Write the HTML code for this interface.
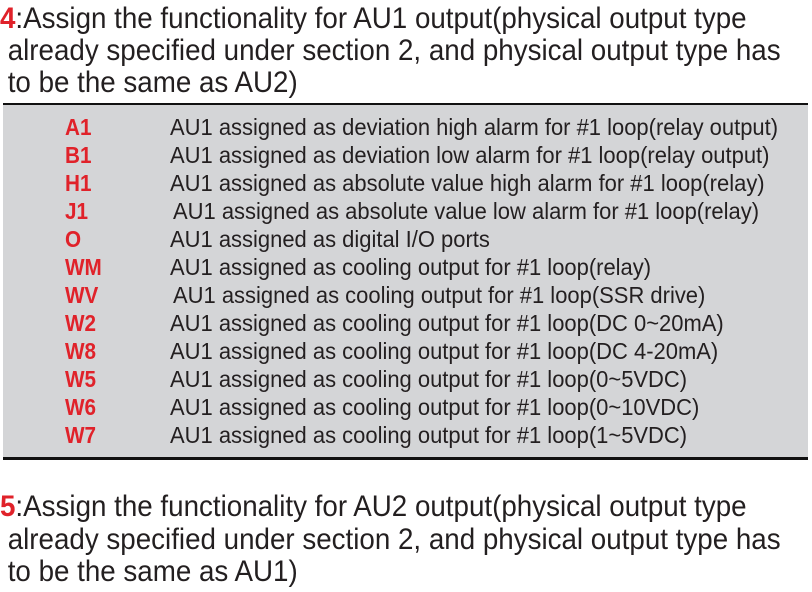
<!DOCTYPE html>
<html><head><style>
body{margin:0;width:812px;height:592px;background:#fff;position:relative;overflow:hidden;font-family:"Liberation Sans",sans-serif;color:#231f20}
.h{position:absolute;left:0;font-size:30px;line-height:32px;white-space:nowrap;transform:scaleX(0.925);transform-origin:0 0}
.r{color:#e0222a;font-weight:bold}
#box{position:absolute;left:3px;top:103px;width:805px;height:352px;background:#d4d5d7;border-top:2px solid #111;border-bottom:3px solid #111}
.row{position:absolute;left:0;height:28px;font-size:23px;line-height:28px;white-space:nowrap}
.c{position:absolute;left:62px;color:#e0222a;font-weight:bold;transform:scaleX(0.9);transform-origin:0 0}
.d{position:absolute;left:167px;transform:scaleX(0.955);transform-origin:0 0}
</style></head><body>
<div class="h" style="top:3px"><span class="r">4</span>:Assign the functionality for AU1 output(physical output type</div>
<div class="h" style="top:35px">&nbsp;already specified under section 2, and physical output type has</div>
<div class="h" style="top:67px">&nbsp;to be the same as AU2)</div>
<div id="box">
<div class="row" style="top:8px"><span class="c">A1</span><span class="d">AU1 assigned as deviation high alarm for #1 loop(relay output)</span></div>
<div class="row" style="top:36px"><span class="c">B1</span><span class="d">AU1 assigned as deviation low alarm for #1 loop(relay output)</span></div>
<div class="row" style="top:64px"><span class="c">H1</span><span class="d">AU1 assigned as absolute value high alarm for #1 loop(relay)</span></div>
<div class="row" style="top:92px"><span class="c">J1</span><span class="d" style="left:170px">AU1 assigned as absolute value low alarm for #1 loop(relay)</span></div>
<div class="row" style="top:120px"><span class="c">O</span><span class="d">AU1 assigned as digital I/O ports</span></div>
<div class="row" style="top:148px"><span class="c">WM</span><span class="d">AU1 assigned as cooling output for #1 loop(relay)</span></div>
<div class="row" style="top:176px"><span class="c">WV</span><span class="d" style="left:170px">AU1 assigned as cooling output for #1 loop(SSR drive)</span></div>
<div class="row" style="top:204px"><span class="c">W2</span><span class="d">AU1 assigned as cooling output for #1 loop(DC 0~20mA)</span></div>
<div class="row" style="top:232px"><span class="c">W8</span><span class="d">AU1 assigned as cooling output for #1 loop(DC 4-20mA)</span></div>
<div class="row" style="top:260px"><span class="c">W5</span><span class="d">AU1 assigned as cooling output for #1 loop(0~5VDC)</span></div>
<div class="row" style="top:288px"><span class="c">W6</span><span class="d">AU1 assigned as cooling output for #1 loop(0~10VDC)</span></div>
<div class="row" style="top:316px"><span class="c">W7</span><span class="d">AU1 assigned as cooling output for #1 loop(1~5VDC)</span></div>
</div>
<div class="h" style="top:491px"><span class="r">5</span>:Assign the functionality for AU2 output(physical output type</div>
<div class="h" style="top:524px">&nbsp;already specified under section 2, and physical output type has</div>
<div class="h" style="top:556px">&nbsp;to be the same as AU1)</div>
</body></html>
